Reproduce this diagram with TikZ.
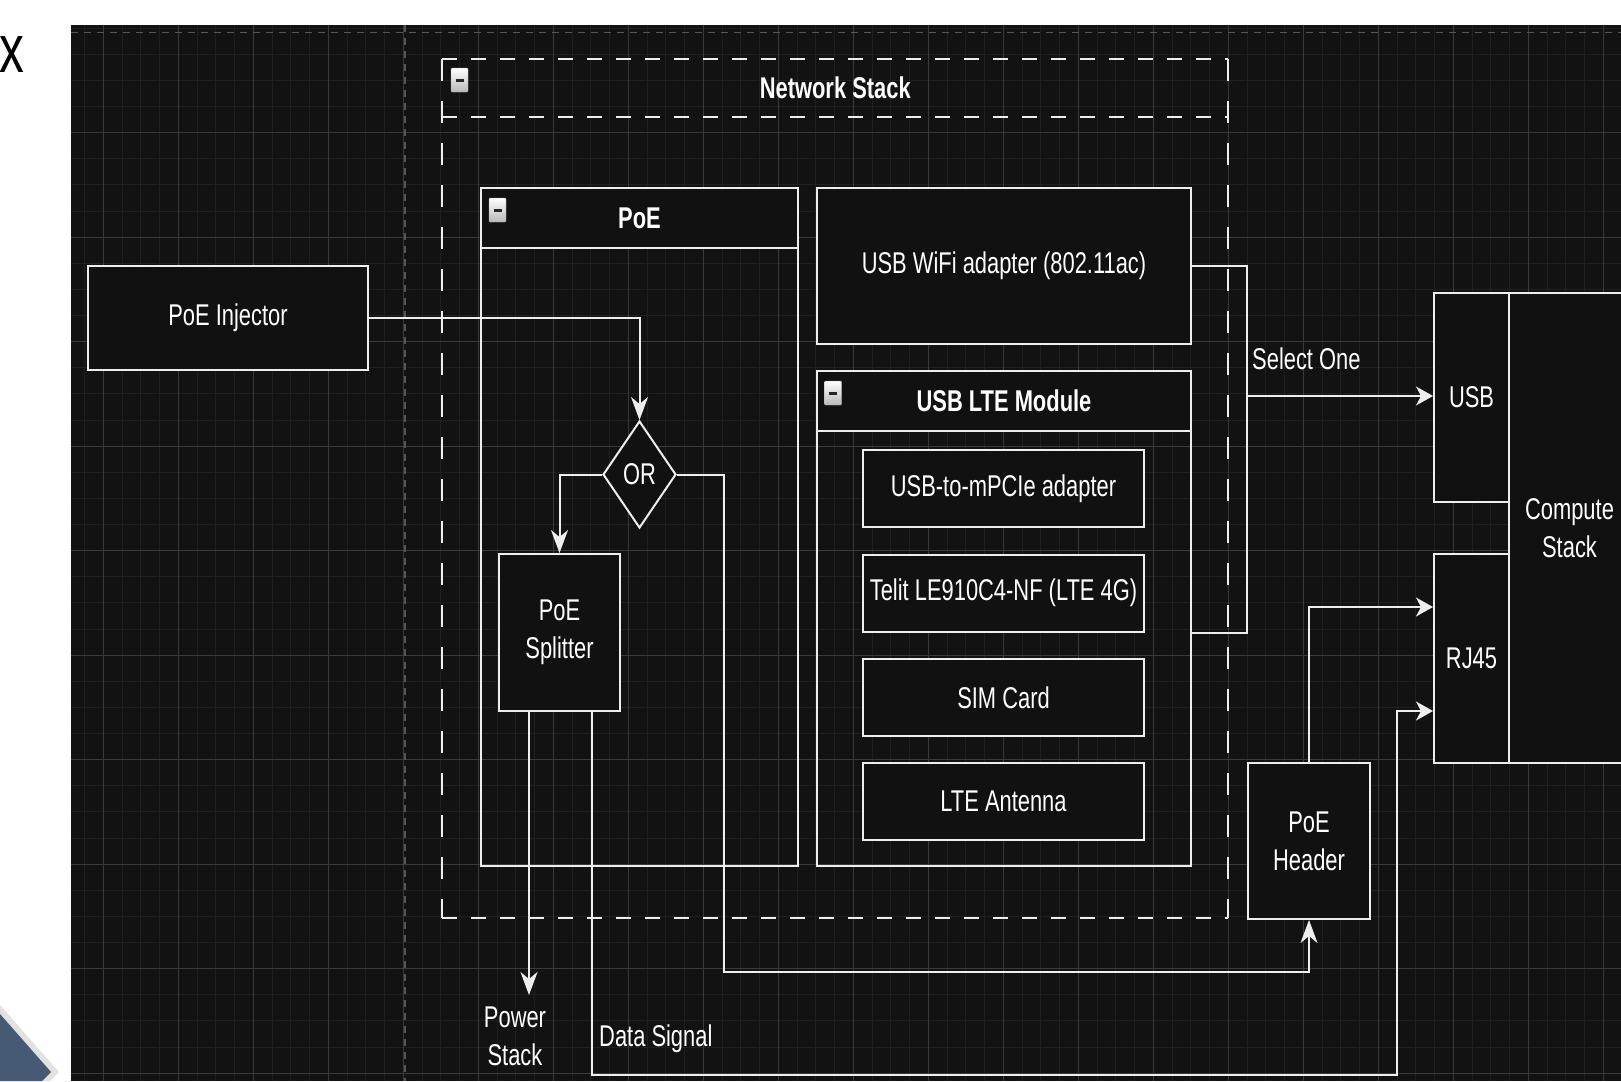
\documentclass[tikz,border=0pt]{standalone}
\usepackage{fontspec}
\setmainfont{Liberation Sans}[FakeStretch=0.73]
\usetikzlibrary{shapes.geometric,arrows.meta}

\definecolor{bgdark}{HTML}{121212}
\definecolor{boxfill}{HTML}{111111}
\definecolor{gridminor}{HTML}{1F1F1F}
\definecolor{gridmajor}{HTML}{3A3A3A}
\definecolor{pagebreak}{HTML}{555555}
\definecolor{wirecol}{HTML}{EEEEEE}
\definecolor{chevblue}{HTML}{475A73}
\definecolor{chevedge}{HTML}{E2E2E2}

\begin{document}
\begin{tikzpicture}[x=1pt,y=-1pt,
  font=\fontsize{30}{38}\selectfont,
  wire/.style={draw=wirecol,line width=2pt},
  box/.style={draw=wirecol,fill=boxfill,line width=2pt,text=white,inner sep=0pt,align=center},
  group/.style={draw=wirecol,line width=2pt,inner sep=0pt},
  title/.style={box,font=\fontsize{30}{38}\selectfont\bfseries},
  lbl/.style={text=white,inner sep=0pt,align=center},
  minusbox/.style={draw=gray!70,top color=white,bottom color=gray!55,minimum width=17pt,minimum height=24pt,inner sep=0pt,rounded corners=1pt,text=black!85},
  hdash/.style={draw=wirecol,line width=2pt,dash pattern=on 15pt off 14pt},
  vdash/.style={draw=wirecol,line width=2pt,dash pattern=on 22pt off 20pt},
  harr/.style={wire,-{Stealth[length=17pt,width=19pt,inset=5pt]}},
  varr/.style={wire,-{Stealth[length=23pt,width=17pt,inset=7pt]}}]

\useasboundingbox (0,0) rectangle (1621,1081);
\clip (0,0) rectangle (1621,1081);
\fill[white] (0,0) rectangle (1621,1081);
\fill[bgdark] (71,25) rectangle (1621,1081);

% canvas grid
\foreach \i in {0,...,82}
  \draw[gridminor,line width=1pt] ({84.55+18.75*\i},25) -- ++(0,1056);
\foreach \j in {0,...,40}
  \draw[gridminor,line width=1pt] (71,{28.2+26.125*\j}) -- (1621,{28.2+26.125*\j});
\foreach \k in {0,...,20}
  \draw[gridmajor,line width=1.2pt] ({103.3+75*\k},25) -- ++(0,1056);
\foreach \k in {1,...,10}
  \draw[gridmajor,line width=1.2pt] (71,{28.2+104.5*\k}) -- (1621,{28.2+104.5*\k});

% page breaks
\draw[pagebreak,line width=1.5pt,dash pattern=on 7pt off 6pt] (71,32.7) -- (1621,32.7);
\draw[pagebreak,line width=1.5pt,dash pattern=on 7pt off 6pt] (405,25) -- (405,1081);

% outside the canvas
\fill[chevedge] (0,1005) -- (59,1072) -- (50,1081) -- (0,1081) -- cycle;
\fill[chevblue] (0,1014) -- (51,1072) -- (42,1081) -- (0,1081) -- cycle;
\node[anchor=base west,inner sep=0pt,font=\fontsize{68}{68}\selectfont] (xmark) at (-1,73) {x};

% Network Stack
\node[inner sep=0pt,minimum width=785.5pt,minimum height=859pt] (net) at (835.25,488.5) {};
\node[lbl,minimum width=785.5pt,minimum height=58pt,font=\fontsize{30}{38}\selectfont\bfseries] (nethead) at (835.25,88) {Network Stack};
\draw[hdash] (net.north west) -- (net.north east);
\draw[hdash] (nethead.south west) -- (nethead.south east);
\draw[hdash] (net.south west) -- (net.south east);
\draw[vdash] (net.north west) -- (net.south west);
\draw[vdash] (net.north east) -- (net.south east);

% PoE
\node[group,minimum width=317pt,minimum height=678pt] (poe) at (639.5,527) {};
\node[title,minimum width=317pt,minimum height=60pt] (poehead) at (639.5,218) {PoE};

% WiFi and LTE
\node[box,minimum width=374pt,minimum height=156pt] (wifi) at (1004,266) {USB WiFi adapter (802.11ac)};
\node[group,minimum width=374pt,minimum height=495pt] (lte) at (1004,618.5) {};
\node[title,minimum width=374pt,minimum height=60pt] (ltehead) at (1004,401) {USB LTE Module};
\node[box,minimum width=281pt,minimum height=77pt] (pcie) at (1003.5,488.5) {USB-to-mPCIe adapter};
\node[box,minimum width=281pt,minimum height=77pt] (tel) at (1003.5,593) {Telit LE910C4-NF (LTE 4G)};
\node[box,minimum width=281pt,minimum height=77pt] (sim) at (1003.5,697.5) {SIM Card};
\node[box,minimum width=281pt,minimum height=77pt] (ant) at (1003.5,801.5) {LTE Antenna};

% collapse icons
\node[minusbox] (neticon) at (459.5,80) {\rule{8pt}{3pt}};
\node[minusbox] (poeicon) at (497.5,210) {\rule{8pt}{3pt}};
\node[minusbox] (lteicon) at (833,393) {\rule{8pt}{3pt}};

% power path
\node[box,minimum width=280pt,minimum height=104pt] (inj) at (228,318) {PoE Injector};
\node[box,diamond,minimum width=73pt,minimum height=107pt] (or) at (639.5,474.5) {OR};
\node[box,minimum width=121pt,minimum height=157pt] (split) at (559.5,632.5) {PoE\\Splitter};
\node[box,minimum width=122pt,minimum height=156pt] (hdr) at (1309,841) {PoE\\Header};

% Compute Stack
\node[box,minimum width=75pt,minimum height=209pt] (usb) at (1471.5,397.5) {USB};
\node[box,minimum width=75pt,minimum height=209pt] (rj) at (1471.5,658.5) {RJ45};
\node[box,minimum width=121pt,minimum height=470pt] (cmp) at (1569.5,528) {Compute\\Stack};

% connectors
\draw[varr] (inj.east) -| (or.north);
\draw[varr] (or.west) -| (split.north);
\coordinate (orbend) at (724,972);
\draw[varr] (or.east) -| (orbend) -| (hdr.south);
\coordinate (pwrend) at (529,995);
\draw[varr] (split.south -| pwrend) -- (pwrend);
\node[lbl] (pwr) at (515,1036) {Power\\Stack};
\coordinate (datbend) at (592,1075);
\coordinate (datup) at (1397,711);
\draw[harr] (split.south -| datbend) -- (datbend) -| (datup) -- (datup -| rj.west);
\node[lbl,anchor=west] (dat) at (599,1039) {Data Signal};
\coordinate (hdrbend) at (1309,607);
\draw[harr] (hdr.north) |- (hdrbend -| rj.west);
\coordinate (selx) at (1247,396);
\draw[wire] (wifi.east) -| (selx) |- (lte.east |- tel.south);
\draw[harr] (selx) -- (selx -| usb.west);
\node[lbl,anchor=west] (sel) at (1252,359) {Select One};
\end{tikzpicture}
\end{document}
